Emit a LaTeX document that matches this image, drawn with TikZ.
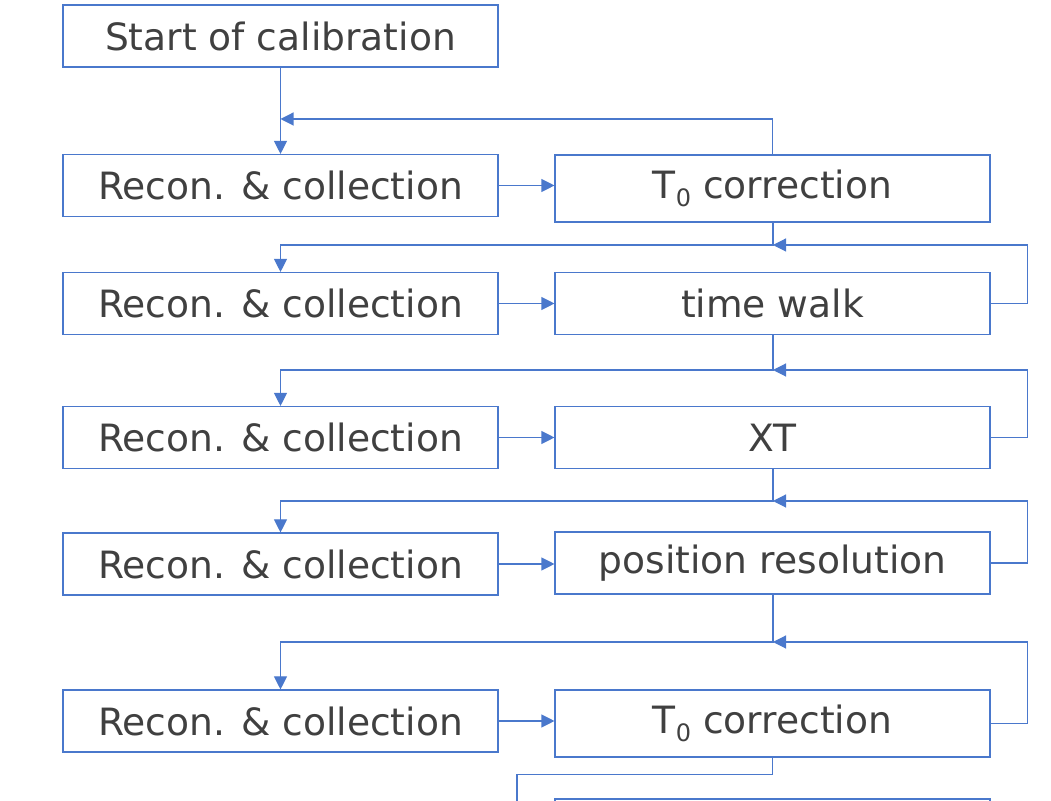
\documentclass[tikz,border=0pt]{standalone}
\usepackage{fontspec}
\setmainfont{DejaVu Sans}
\usepackage{xcolor}
\usetikzlibrary{arrows.meta, positioning}

\definecolor{lineblue}{HTML}{4A78CC}
\definecolor{textgray}{HTML}{404040}
\newcommand{\tzero}{T{\fontsize{12}{13}\selectfont\raisebox{-0.6ex}{0}}}

\begin{document}
\begin{tikzpicture}[
    x=0.5pt, y=-0.5pt,
    box/.style={rectangle, draw=lineblue, line width=0.55pt, minimum width=217.5pt, minimum height=31pt, inner sep=0pt, align=center, text=textgray, font=\fontsize{18.8}{22}\selectfont},
    tbox/.style={box, minimum height=33.5pt},
    conn/.style={draw=lineblue, line width=0.55pt},
    arr/.style={conn, -{Triangle[length=6.5pt, width=6.5pt]}}
]
\useasboundingbox (0,0) rectangle (1051,801);
\clip (0,0) rectangle (1051,801);

% left column
\node[box] (start) at (280.5,36) {Start of calibration};
\node[box] (rc1) at (280.5,185.5) {Recon. \& collection};
\node[box] (rc2) at (280.5,303.5) {Recon. \& collection};
\node[box] (rc3) at (280.5,437.5) {Recon. \& collection};
\node[box] (rc4) at (280.5,564) {Recon. \& collection};
\node[box] (rc5) at (280.5,721) {Recon. \& collection};

% right column
\node[tbox] (tzero1) at (772.5,188.5) {\tzero\ correction};
\node[box] (walk) at (772.5,303.5) {time walk};
\node[box] (xt) at (772.5,437.5) {XT};
\node[box] (posres) at (772.5,563) {position resolution};
\node[tbox] (tzero2) at (772.5,723.5) {\tzero\ correction};
\node[box] (next) at (772.5,830) {};

% junctions
\coordinate (j0) at (280.5,119);
\coordinate (j1) at (773,245);
\coordinate (j2) at (773,370);
\coordinate (j3) at (773,501);
\coordinate (j4) at (773,642);
\coordinate (tail) at (517,830);

\draw[arr] (start) -- (rc1);
\draw[arr] (tzero1.north) |- (j0);

\draw[arr] (rc1.east) -- (rc1.east -| tzero1.west);
\draw[arr] (rc2) -- (walk);
\draw[arr] (rc3) -- (xt);
\draw[arr] (rc4.east) -- (rc4.east -| posres.west);
\draw[arr] (rc5.east) -- (rc5.east -| tzero2.west);

\draw[arr] (tzero1.south -| j1) -- (j1) -| (rc2.north);
\draw[arr] (walk.east) -- ++(37,0) |- (j1);
\draw[arr] (walk.south -| j2) -- (j2) -| (rc3.north);
\draw[arr] (xt.east) -- ++(37,0) |- (j2);
\draw[arr] (xt.south -| j3) -- (j3) -| (rc4.north);
\draw[arr] (posres.east) -- ++(37,0) |- (j3);
\draw[arr] (posres.south -| j4) -- (j4) -| (rc5.north);
\draw[arr] (tzero2.east) -- ++(37,0) |- (j4);

\draw[conn] (tzero2.south) -- ++(0,17) -| (tail);
\end{tikzpicture}
\end{document}
